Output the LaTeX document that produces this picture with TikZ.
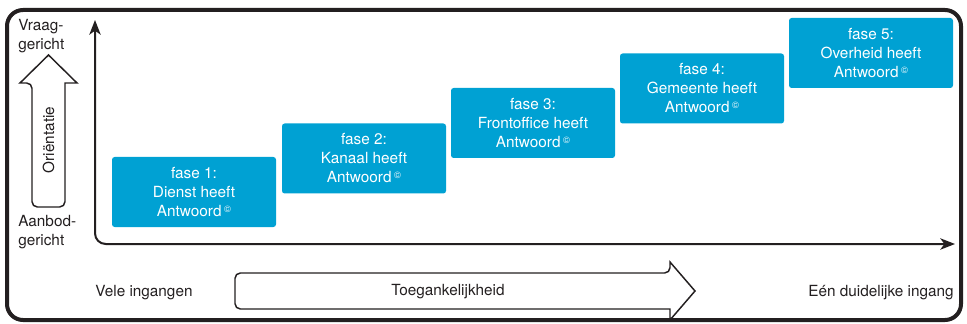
\documentclass[tikz,border=0pt]{standalone}
\usepackage{fontspec}
\setmainfont{TeX Gyre Heros}
\usepackage{tikz}
\usetikzlibrary{arrows.meta}
\definecolor{fasecyan}{RGB}{0,161,211}
\definecolor{inkt}{RGB}{35,31,32}
\tikzset{fase/.style={fill=fasecyan, text=white, rounded corners=2pt,
           minimum width=123pt, minimum height=52.5pt, align=center, inner sep=0pt},
         label text/.style={text=inkt, align=left, inner sep=0pt},
         blokpijl/.style={draw=inkt, line width=1.1pt, fill=white},
         as/.style={draw=inkt, line width=1.5pt, rounded corners=8pt},
         x=0.75pt, y=-0.75pt}
\newcommand{\antw}{Antwoord\,\raisebox{0.55ex}{\scriptsize\textcopyright}}

\begin{document}
\begin{tikzpicture}[font=\fontsize{11.5}{14.25}\selectfont]
		\useasboundingbox (0,0) rectangle (967,324);
		% kader
		\draw[line width=3pt, draw=inkt, rounded corners=12pt] (7,10) rectangle (961,320);
		% assen
		\coordinate (boven) at (95,20);
		\coordinate (oorsprong) at (95,244);
		\coordinate (rechts) at (955,244);
		\draw[as, {Stealth[length=11pt,width=8.5pt,inset=3pt]}-{Stealth[length=11pt,width=8.5pt,inset=3pt]}] (boven) -- (oorsprong) -- (rechts);
		% orientatie
		\draw[blokpijl] (65,83) [rounded corners=4pt] -- (65,207) -- (32,207) -- (32,83)
		  [sharp corners] -- (20,83) -- (48.5,55) -- (77,83) -- cycle;
		\node[label text, rotate=90] (orientatie) at (48.5,140) {Oriëntatie};
		\node[label text, anchor=north west] (vraag) at (18,19) {Vraag-\\gericht};
		\node[label text, anchor=north west] (aanbod) at (18,215) {Aanbod-\\gericht};
		% toegankelijkheid
		\draw[blokpijl] (670,273) [sharp corners] -- (670,262) -- (695,291) -- (670,320) -- (670,309)
		  [rounded corners=4pt] -- (235,309) -- (235,273) -- cycle;
		\node[label text] (toegang) at (448,292) {Toegankelijkheid};
		\node[label text] (vele) at (144,293) {Vele ingangen};
		\node[label text] (een) at (881,293) {Eén duidelijke ingang};
		% fasen
		\node[fase] (fase1) at (194,192) {fase 1:\\Dienst heeft\\\antw};
		\node[fase] (fase2) at (364,158.5) {fase 2:\\Kanaal heeft\\\antw};
		\node[fase] (fase3) at (533,123) {fase 3:\\Frontoffice heeft\\\antw};
		\node[fase] (fase4) at (702,88.5) {fase 4:\\Gemeente heeft\\\antw};
		\node[fase] (fase5) at (871,53) {fase 5:\\Overheid heeft\\\antw};
	\end{tikzpicture}
\end{document}
